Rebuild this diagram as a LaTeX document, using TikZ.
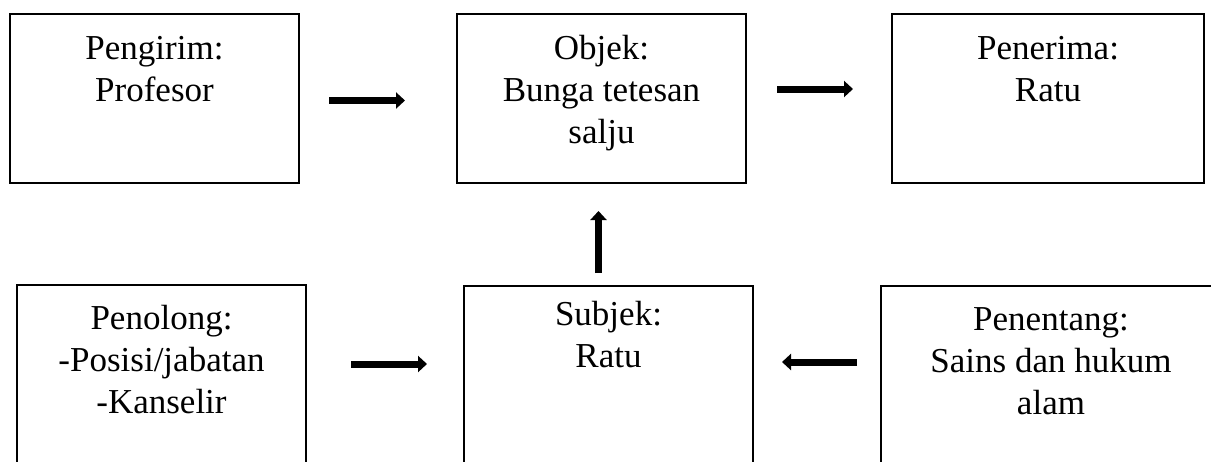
\documentclass[tikz,border=0pt]{standalone}
\usepackage{fontspec}
\setmainfont{Liberation Serif}
\usetikzlibrary{arrows.meta}
\newcommand{\fl}{\rule{0pt}{30pt}}
\tikzset{
  box/.style={draw=black, line width=2pt, inner sep=0pt, fill=none},
  txt/.style={anchor=north, align=center, inner sep=0pt,
    font=\fontsize{35}{42}\selectfont},
  bigarrow/.style={line width=7pt, -{Triangle[length=9pt,width=16pt]}},
}
\begin{document}
\begin{tikzpicture}[x=1pt,y=-1pt]
\useasboundingbox (0,0) rectangle (1211,461);
\clip (0,0) rectangle (1211,461);
% top row boxes
\node[box, minimum width=289pt, minimum height=169pt] (send) at (154.5,98.5) {};
\node[box, minimum width=289pt, minimum height=169pt] (obj) at (601.5,98.5) {};
\node[box, minimum width=312pt, minimum height=169pt] (recv) at (1048,98.5) {};
% bottom row boxes (clipped at bottom)
\node[box, minimum width=289pt, minimum height=200pt] (help) at (161.5,385) {};
\node[box, minimum width=289pt, minimum height=200pt] (subj) at (608.5,386) {};
\node[box, minimum width=340pt, minimum height=200pt] (opp) at (1051,386) {};
% texts
\node[txt] (tsend) at ([yshift=-16pt]send.north) {\fl Pengirim:\\Profesor};
\node[txt] (tobj) at ([yshift=-16pt]obj.north) {\fl Objek:\\Bunga tetesan\\salju};
\node[txt] (trecv) at ([yshift=-16pt]recv.north) {\fl Penerima:\\Ratu};
\node[txt] (thelp) at ([yshift=-15pt]help.north) {\fl Penolong:\\-Posisi/jabatan\\-Kanselir};
\node[txt] (tsubj) at ([yshift=-10pt]subj.north) {\fl Subjek:\\Ratu};
\node[txt] (topp) at ([yshift=-15pt]opp.north) {\fl Penentang:\\Sains dan hukum\\alam};
% arrow end points
\coordinate (a1s) at (329,100.5);
\coordinate (a1e) at (405,100.5);
\coordinate (a2s) at (777,89);
\coordinate (a2e) at (853,89);
\coordinate (a3s) at (598.5,273);
\coordinate (a3e) at (598.5,211);
\coordinate (a4s) at (351,364);
\coordinate (a4e) at (427,364);
\coordinate (a5s) at (857,362);
\coordinate (a5e) at (782,362);
\draw[bigarrow] (a1s) -- (a1e);
\draw[bigarrow] (a2s) -- (a2e);
\draw[bigarrow] (a3s) -- (a3e);
\draw[bigarrow] (a4s) -- (a4e);
\draw[bigarrow] (a5s) -- (a5e);
\end{tikzpicture}
\end{document}
